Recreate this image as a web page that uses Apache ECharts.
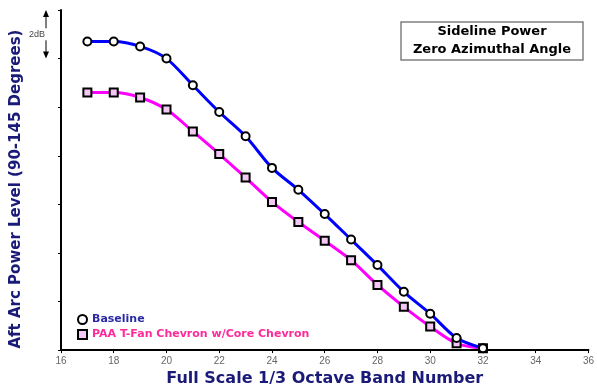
<!DOCTYPE html>
<html><head><meta charset="utf-8">
<script src="https://cdn.jsdelivr.net/npm/echarts@6/dist/echarts.min.js"></script>
<style>html,body{margin:0;padding:0;background:#fff}#c{width:597px;height:392px}</style>
</head><body><div id="c"></div>
<script>
var bands = [17,18,19,20,21,22,23,24,25,26,27,28,29,30,31,32];
var baseline = [12.7,12.7,12.5,12.0,10.9,9.8,8.8,7.5,6.6,5.6,4.55,3.5,2.4,1.5,0.5,0.08];
var paa = [10.6,10.6,10.4,9.9,9.0,8.07,7.1,6.1,5.27,4.5,3.7,2.68,1.78,0.97,0.28,0.08];
var xTicks = [16,18,20,22,24,26,28,30,32,34,36];

function pairs(v){ return bands.map(function(b,i){ return [b, v[i]]; }); }
var font = '"Liberation Sans", Arial, sans-serif';
var bfont = '"DejaVu Sans", sans-serif';
var chart = echarts.init(document.getElementById('c'));
chart.setOption({
  animation:false,
  backgroundColor:'#fff',
  grid:{left:61,right:1,top:10,bottom:37},
  xAxis:{type:'value',min:16,max:36,interval:2,
    axisLine:{lineStyle:{color:'#000',width:2}},
    axisTick:{show:true,length:3,lineStyle:{color:'#000'}},
    axisLabel:{color:'#666',fontSize:10,fontFamily:font,margin:6,
      formatter:function(v){ return xTicks.indexOf(v)>=0 ? String(v) : ''; }},
    splitLine:{show:false},
    name:'Full Scale 1/3 Octave Band Number',nameLocation:'middle',nameGap:19,
    nameTextStyle:{color:'#1a1a78',fontSize:16,fontWeight:'bold',fontFamily:bfont}},
  yAxis:{type:'value',min:0,max:14,interval:2,
    axisLine:{show:true,lineStyle:{color:'#000',width:2}},
    axisTick:{show:true,length:3,lineStyle:{color:'#000'}},
    axisLabel:{show:false},splitLine:{show:false},
    name:'Aft Arc Power Level (90-145 Degrees)',nameLocation:'middle',nameGap:37,
    nameTextStyle:{color:'#1a1a78',fontSize:15,fontWeight:'bold',fontFamily:bfont,padding:[0,18,0,0]}},
  legend:{orient:'vertical',left:72,top:309,itemGap:4,itemWidth:9,itemHeight:9,
    textStyle:{fontFamily:bfont,fontSize:11,fontWeight:'bold'},
    data:[{name:'Baseline',icon:'circle',textStyle:{color:'#2a2aa8'}},
          {name:'PAA T-Fan Chevron w/Core Chevron',icon:'rect',textStyle:{color:'#ff2a9a'}}]},
  series:[
    {name:'Baseline',type:'line',data:pairs(baseline),smooth:0.3,symbol:'circle',symbolSize:8,
     lineStyle:{color:'#0000ff',width:3},
     itemStyle:{color:'#ffffff',borderColor:'#000',borderWidth:2},z:3},
    {name:'PAA T-Fan Chevron w/Core Chevron',type:'line',data:pairs(paa),smooth:0.3,symbol:'rect',symbolSize:8,
     lineStyle:{color:'#ff00ff',width:3},
     itemStyle:{color:'#f4c8f4',borderColor:'#000',borderWidth:2},z:2}
  ]
});
var p0 = chart.convertToPixel({gridIndex:0},[16,14]);
var p1 = chart.convertToPixel({gridIndex:0},[16,12]);
var ax = p0[0]-15;
chart.setOption({graphic:[
  {type:'line',shape:{x1:ax,y1:p0[1]+2,x2:ax,y2:p1[1]-2},style:{stroke:'#000',lineWidth:1}},
  {type:'polygon',shape:{points:[[ax,p0[1]],[ax-3,p0[1]+7],[ax+3,p0[1]+7]]},style:{fill:'#000'}},
  {type:'polygon',shape:{points:[[ax,p1[1]],[ax-3,p1[1]-7],[ax+3,p1[1]-7]]},style:{fill:'#000'}},
  {type:'rect',shape:{x:ax-14,y:(p0[1]+p1[1])/2-6,width:16,height:12},style:{fill:'#fff'}},
  {type:'text',x:ax-1,y:(p0[1]+p1[1])/2,style:{text:'2dB',fill:'#444',font:'9px '+font,align:'right',verticalAlign:'middle'}},
  {type:'rect',shape:{x:401,y:22,width:182,height:38},style:{fill:'#fff',stroke:'#808080',lineWidth:1.5}},
  {type:'text',x:492,y:41,style:{text:'Sideline Power\nZero Azimuthal Angle',fill:'#000',
    font:'bold 13px '+bfont,align:'center',verticalAlign:'middle',lineHeight:18}}
]});
</script></body></html>
